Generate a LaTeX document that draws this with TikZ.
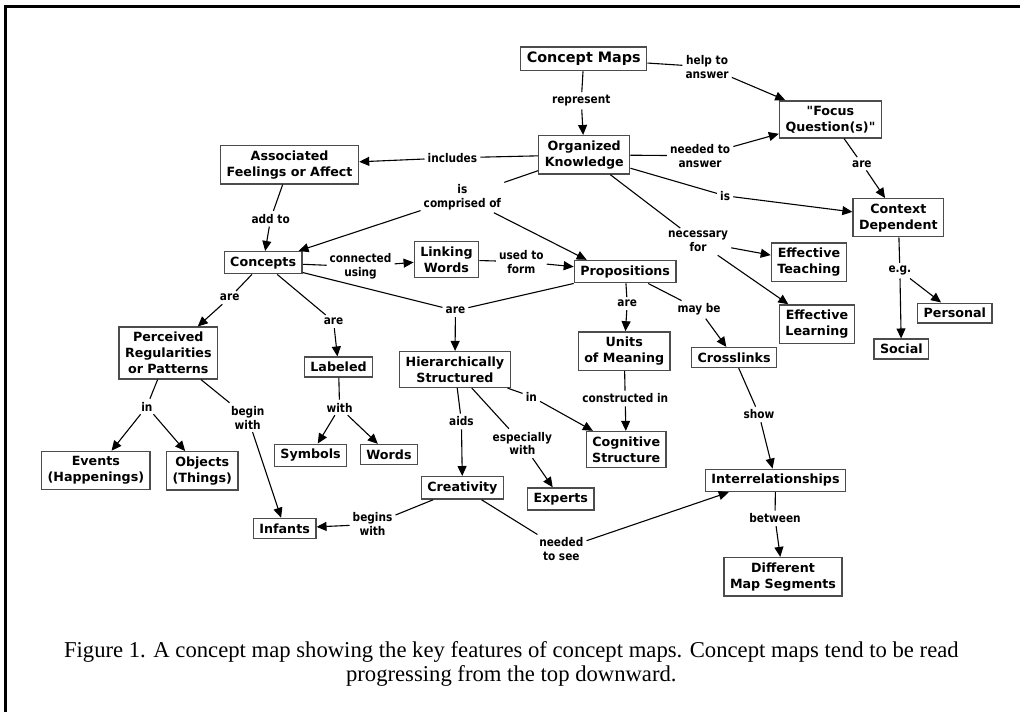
\documentclass[tikz,border=0pt]{standalone}
\usepackage{fontspec}
\setmainfont{Liberation Serif}
\newfontfamily\conceptfont{DejaVu Sans}
\newfontfamily\phrasefont{DejaVu Sans}[FakeStretch=0.88]
\usetikzlibrary{arrows.meta}

\begin{document}
\begin{tikzpicture}[x=1pt,y=-1pt,
		concept/.style={draw=black!70,line width=1.4pt,fill=white,align=center,
			inner xsep=6pt,inner ysep=5pt,
			font=\conceptfont\bfseries\fontsize{12.7}{16}\selectfont},
		phrase/.style={align=center,inner sep=3pt,
			font=\phrasefont\bfseries\fontsize{12}{14}\selectfont},
		link/.style={line width=1.1pt},
		linkto/.style={line width=1.1pt,-{Triangle[length=10pt,width=9pt]}}]
		% frame, open to the right and bottom
		\draw[line width=2.6pt] (1021,6.5) -- (5.5,6.5) -- (5.5,713);
		
		% concepts
		\node[concept,font=\conceptfont\bfseries\fontsize{14.4}{17}\selectfont] (cmaps) at (584.5,59) {Concept Maps};
		\node[concept] (focus) at (831.5,119.5) {"Focus\\Question(s)"};
		\node[concept] (orgknow) at (585,155) {Organized\\Knowledge};
		\node[concept] (assoc) at (290,165) {Associated\\Feelings or Affect};
		\node[concept] (concepts) at (263.5,263) {Concepts};
		\node[concept] (linkw) at (447,260) {Linking\\Words};
		\node[concept] (props) at (626,272) {Propositions};
		\node[concept] (context) at (899.5,218) {Context\\Dependent};
		\node[concept] (efteach) at (810,262.5) {Effective\\Teaching};
		\node[concept] (eflearn) at (818,324.5) {Effective\\Learning};
		\node[concept] (personal) at (956,313.5) {Personal};
		\node[concept] (social) at (902.5,349.5) {Social};
		\node[concept] (percv) at (168.5,353.5) {Perceived\\Regularities\\or Patterns};
		\node[concept] (labeled) at (339,367.5) {Labeled};
		\node[concept] (hier) at (455.5,370) {Hierarchically\\Structured};
		\node[concept] (units) at (625,351.5) {Units\\of Meaning};
		\node[concept] (cross) at (735,358) {Crosslinks};
		\node[concept] (cogn) at (627,450) {Cognitive\\Structure};
		\node[concept] (events) at (96,471) {Events\\(Happenings)};
		\node[concept] (objects) at (202.5,471.5) {Objects\\(Things)};
		\node[concept] (symbols) at (311,456) {Symbols};
		\node[concept] (words) at (389.5,455) {Words};
		\node[concept] (creat) at (463,488.5) {Creativity};
		\node[concept] (experts) at (561.5,499.5) {Experts};
		\node[concept] (interrel) at (776.5,481) {Interrelationships};
		\node[concept] (diffseg) at (784,577.5) {Different\\Map Segments};
		\node[concept] (infants) at (285,529) {Infants};
		
		% linking phrases
		\node[phrase] (lrep) at (582,101) {represent};
		\node[phrase] (lhelp) at (708,67) {help to\\answer};
		\node[phrase] (lneed) at (701,156) {needed to\\answer};
		\node[phrase] (lincl) at (453,158) {includes};
		\node[phrase] (lcomp) at (463,197) {is\\comprised of};
		\node[phrase] (lis) at (726,196) {is};
		\node[phrase] (lnec) at (699,242) {necessary\\for};
		\node[phrase] (lfare) at (863,164) {are};
		\node[phrase] (leg) at (901,271) {e.g.};
		\node[phrase] (ladd) at (271,219) {add to};
		\node[phrase] (lconn) at (361,267) {connected\\using};
		\node[phrase] (lused) at (522,262) {used to\\form};
		\node[phrase] (lareperc) at (230,298) {are};
		\node[phrase] (larelab) at (334,322) {are};
		\node[phrase] (larehier) at (456,311) {are};
		\node[phrase] (lareunit) at (628,304) {are};
		\node[phrase] (lmay) at (700,310) {may be};
		\node[phrase] (linev) at (147,407) {in};
		\node[phrase] (lbegin) at (248,418) {begin\\with};
		\node[phrase] (lwith) at (340,408) {with};
		\node[phrase] (lincog) at (532,397) {in};
		\node[phrase] (lcons) at (626,399) {constructed in};
		\node[phrase] (laids) at (462,422) {aids};
		\node[phrase] (lesp) at (523,444) {especially\\with};
		\node[phrase] (lshow) at (760,415) {show};
		\node[phrase] (lbegins) at (373,525) {begins\\with};
		\node[phrase] (lsee) at (562,550) {needed\\to see};
		\node[phrase] (lbetw) at (776,519) {between};
		
		% propositions: concept -- phrase -> concept
		\draw[link] (cmaps) -- (lrep);
		\draw[linkto] (lrep) -- (orgknow);
		\draw[link] (cmaps) -- (lhelp);
		\draw[linkto] (lhelp) -- (focus);
		\draw[link] (orgknow) -- (lneed);
		\draw[linkto] (lneed) -- (focus);
		\draw[link] (orgknow) -- (lincl);
		\draw[linkto] (lincl) -- (assoc);
		\draw[link] (orgknow) -- (lcomp);
		\draw[linkto] (lcomp) -- (concepts);
		\draw[linkto] (lcomp) -- ([xshift=13pt]props.north west);
		\draw[link] (orgknow) -- (lis);
		\draw[linkto] (lis) -- (context);
		\draw[link] (orgknow) -- (lnec);
		\draw[linkto] (lnec) -- (efteach);
		\draw[linkto] (lnec) -- (eflearn);
		\draw[link] (focus) -- (lfare);
		\draw[linkto] (lfare) -- (context);
		\draw[link] (context) -- (leg);
		\draw[linkto] (leg) -- (personal);
		\draw[linkto] (leg) -- (social);
		\draw[link] (assoc) -- (ladd);
		\draw[linkto] (ladd) -- (concepts);
		\draw[link] (concepts) -- (lconn);
		\draw[linkto] (lconn) -- (linkw);
		\draw[link] (linkw) -- (lused);
		\draw[linkto] (lused) -- (props);
		\draw[link] (concepts) -- (lareperc);
		\draw[linkto] (lareperc) -- (percv);
		\draw[link] (concepts) -- (larelab);
		\draw[linkto] (larelab) -- (labeled);
		\draw[link] (concepts) -- (larehier);
		\draw[link] (props) -- (larehier);
		\draw[linkto] (larehier) -- (hier);
		\draw[link] (props) -- (lareunit);
		\draw[linkto] (lareunit) -- (units);
		\draw[link] (props) -- (lmay);
		\draw[linkto] (lmay) -- (cross);
		\draw[link] (percv) -- (linev);
		\draw[linkto] (linev) -- (events);
		\draw[linkto] (linev) -- (objects);
		\draw[link] (percv) -- (lbegin);
		\draw[linkto] (lbegin) -- (infants);
		\draw[link] (labeled) -- (lwith);
		\draw[linkto] (lwith) -- (symbols);
		\draw[linkto] (lwith) -- (words);
		\draw[link] (hier) -- (lincog);
		\draw[linkto] (lincog) -- (cogn);
		\draw[link] (units) -- (lcons);
		\draw[linkto] (lcons) -- (cogn);
		\draw[link] (hier) -- (laids);
		\draw[linkto] (laids) -- (creat);
		\draw[link] (hier) -- (lesp);
		\draw[linkto] (lesp) -- (experts);
		\draw[link] (cross) -- (lshow);
		\draw[linkto] (lshow) -- (interrel);
		\draw[link] (creat) -- (lbegins);
		\draw[linkto] (lbegins) -- (infants);
		\draw[link] (creat) -- (lsee);
		\draw[linkto] (lsee) -- ([xshift=24pt]interrel.south west);
		\draw[link] (interrel) -- (lbetw);
		\draw[linkto] (lbetw) -- (diffseg);
		
		% caption
		\node[anchor=north,inner sep=0pt,align=center,font=\fontsize{22.7}{23.5}\selectfont] (caption) at (512,642.5)
		{Figure 1. A concept map showing the key features of concept maps. Concept maps tend to be read\\
			progressing from the top downward.};
		
		\useasboundingbox (0,0) rectangle (1021,713);
	\end{tikzpicture}
\end{document}
